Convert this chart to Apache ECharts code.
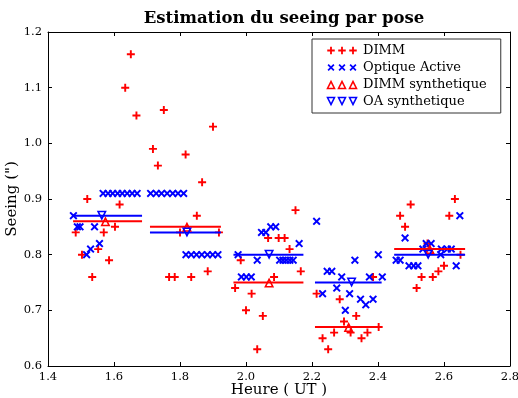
<!DOCTYPE html>
<html>
<head>
<meta charset="utf-8">
<script src="https://cdn.jsdelivr.net/npm/echarts@6/dist/echarts.min.js"></script>
<style>html,body{margin:0;padding:0;background:#fff;}#c{width:518px;height:398px;}</style>
</head>
<body>
<div id="c"></div>
<script>
// ---- data ----
const dimmX = [1.484,1.503,1.519,1.534,1.552,1.569,1.585,1.603,1.617,1.634,1.651,1.668,
  1.718,1.733,1.751,1.767,1.784,1.800,1.817,1.834,1.851,1.867,1.884,1.900,1.918,
  1.967,1.984,2.000,2.017,2.034,2.051,2.067,2.085,2.099,2.117,2.132,2.150,2.166,
  2.214,2.232,2.249,2.267,2.284,2.297,2.317,2.334,2.350,2.368,2.385,2.402,
  2.467,2.482,2.499,2.517,2.532,2.550,2.566,2.583,2.600,2.616,2.633,2.650];
const dimmY = [0.84,0.80,0.90,0.76,0.81,0.84,0.79,0.85,0.89,1.10,1.16,1.05,
  0.99,0.96,1.06,0.76,0.76,0.84,0.98,0.76,0.87,0.93,0.77,1.03,0.84,
  0.74,0.79,0.70,0.73,0.63,0.69,0.83,0.76,0.83,0.83,0.81,0.88,0.77,
  0.73,0.65,0.63,0.66,0.72,0.68,0.66,0.69,0.65,0.66,0.76,0.67,
  0.87,0.85,0.89,0.74,0.76,0.82,0.76,0.77,0.78,0.87,0.90,0.80];
const oaX = [1.477,1.489,1.497,1.517,1.529,1.541,1.556,1.567,1.582,1.596,1.611,1.625,1.640,1.655,1.670,
  1.711,1.728,1.744,1.761,1.778,1.794,1.811,1.818,1.834,1.850,1.866,1.883,1.899,1.915,
  1.976,1.986,2.001,2.016,2.034,2.047,2.060,2.075,2.090,2.102,2.112,2.122,2.133,2.143,2.161,
  2.214,2.232,2.246,2.260,2.275,2.290,2.301,2.314,2.330,2.347,2.363,2.374,2.385,2.401,2.413,
  2.455,2.467,2.482,2.494,2.508,2.521,2.536,2.546,2.561,2.590,2.592,2.610,2.622,2.637,2.648];
const oaY = [0.87,0.85,0.85,0.80,0.81,0.85,0.82,0.91,0.91,0.91,0.91,0.91,0.91,0.91,0.91,
  0.91,0.91,0.91,0.91,0.91,0.91,0.91,0.80,0.80,0.80,0.80,0.80,0.80,0.80,
  0.80,0.76,0.76,0.76,0.79,0.84,0.84,0.85,0.85,0.79,0.79,0.79,0.79,0.79,0.82,
  0.86,0.73,0.77,0.77,0.74,0.76,0.70,0.73,0.79,0.72,0.71,0.76,0.72,0.80,0.76,
  0.79,0.79,0.83,0.78,0.78,0.78,0.81,0.82,0.82,0.80,0.81,0.81,0.81,0.78,0.87];
const segStart = [1.476,1.709,1.962,2.209,2.449];
const segEnd   = [1.685,1.924,2.174,2.411,2.664];
const dimmSynth = [0.86,0.85,0.75,0.67,0.81];
const oaSynth   = [0.87,0.84,0.80,0.75,0.80];
const dimmTriX = [1.574,1.821,2.070,2.311,2.557];
const oaTriX   = [1.563,1.821,2.070,2.320,2.552];
const seriesNames = ['DIMM','Optique Active','DIMM synthetique','OA synthetique'];

// ---- marker shapes (normalised 0..1 polygons) ----
const PLUS = [[[0.38,0],[0.62,0],[0.62,0.38],[1,0.38],[1,0.62],[0.62,0.62],[0.62,1],[0.38,1],[0.38,0.62],[0,0.62],[0,0.38],[0.38,0.38]]];
const CROSS = [[[0.17,0],[0.5,0.33],[0.83,0],[1,0.17],[0.67,0.5],[1,0.83],[0.83,1],[0.5,0.67],[0.17,1],[0,0.83],[0.33,0.5],[0,0.17]]];
const TRI_UP = [[[0.5,0],[0,1],[1,1]],[[0.5,0.36],[0.745,0.845],[0.255,0.845]]];
const TRI_DN = [[[0.5,1],[0,0],[1,0]],[[0.5,0.64],[0.745,0.155],[0.255,0.155]]];
function shapePath(shape, ox, oy, s) {
  return shape.map(p => 'M' + p.map(q => (ox + q[0]*s).toFixed(3) + ',' + (oy + q[1]*s).toFixed(3)).join('L') + 'Z').join('');
}
function symbol(shape) { return 'path://' + shapePath(shape, 0, 0, 10); }
function legendIcon(shape, s) {
  let d = 'M0,0M32,10';
  [5,16,27].forEach(c => { d += shapePath(shape, c - s/2, 5 - s/2, s); });
  return 'path://' + d;
}

const RED = '#ff0000', BLUE = '#0000ff';
const FONT = 'DejaVu Serif';
const pts = (xs, ys) => xs.map((x, i) => [x, ys[i]]);

const series = [
  {name: seriesNames[0], type: 'scatter', symbol: symbol(PLUS), symbolSize: 8,
   itemStyle: {color: RED, opacity: 1}, data: pts(dimmX, dimmY), z: 3},
  {name: seriesNames[1], type: 'scatter', symbol: symbol(CROSS), symbolSize: 8,
   itemStyle: {color: BLUE, opacity: 1}, data: pts(oaX, oaY), z: 3},
  {name: seriesNames[2], type: 'scatter', symbol: symbol(TRI_UP), symbolSize: 10,
   itemStyle: {color: RED, opacity: 1}, data: pts(dimmTriX, dimmSynth), z: 6},
  {name: seriesNames[3], type: 'scatter', symbol: symbol(TRI_DN), symbolSize: 10,
   itemStyle: {color: BLUE, opacity: 1}, data: pts(oaTriX, oaSynth), z: 6}
];
segStart.forEach((s, i) => {
  series.push({type: 'line', data: [[s, dimmSynth[i]], [segEnd[i], dimmSynth[i]]], symbol: 'none',
    lineStyle: {color: RED, width: 2}, silent: true, z: 5, animation: false});
  series.push({type: 'line', data: [[s, oaSynth[i]], [segEnd[i], oaSynth[i]]], symbol: 'none',
    lineStyle: {color: BLUE, width: 2}, silent: true, z: 5, animation: false});
});

const axisCommon = {
  axisLine: {show: true, lineStyle: {color: '#000', width: 1}},
  axisTick: {show: true, inside: true, length: 4, lineStyle: {color: '#000'}},
  splitLine: {show: false}
};
const chart = echarts.init(document.getElementById('c'), null, {renderer: 'canvas'});
chart.setOption({
  backgroundColor: '#fff',
  animation: false,
  title: {text: 'Estimation du seeing par pose', left: 279, top: 5, textAlign: 'center',
    textStyle: {fontFamily: FONT, fontWeight: 'bold', fontSize: 16.5, color: '#000'}},
  grid: {left: 48, right: 8, top: 32, bottom: 32, containLabel: false, outerBoundsMode: 'none'},
  legend: {
    orient: 'vertical', left: 312, top: 39,
    backgroundColor: '#fff', borderColor: '#333', borderWidth: 1, borderRadius: 0,
    padding: [5, 14, 5, 14], itemGap: 4, itemWidth: 32, itemHeight: 10,
    selectedMode: false,
    textStyle: {fontFamily: FONT, fontSize: 13, color: '#000', lineHeight: 13},
    data: [
      {name: seriesNames[0], icon: legendIcon(PLUS, 7.5)},
      {name: seriesNames[1], icon: legendIcon(CROSS, 7)},
      {name: seriesNames[2], icon: legendIcon(TRI_UP, 9.5)},
      {name: seriesNames[3], icon: legendIcon(TRI_DN, 9.5)}
    ]
  },
  xAxis: [
    Object.assign({type: 'value', min: 1.4, max: 2.8, interval: 0.2, position: 'bottom',
      name: 'Heure ( UT )', nameLocation: 'middle', nameGap: 17, nameMoveOverlap: false,
      nameTextStyle: {fontFamily: FONT, fontSize: 15, color: '#000', verticalAlign: 'top'},
      axisLabel: {fontFamily: FONT, fontSize: 11.5, color: '#000', margin: 5, formatter: v => v.toFixed(1)}}, axisCommon),
    Object.assign({type: 'value', min: 1.4, max: 2.8, interval: 0.2, position: 'top',
      axisLabel: {show: false}}, axisCommon)
  ],
  yAxis: [
    Object.assign({type: 'value', min: 0.6, max: 1.2, interval: 0.1, position: 'left',
      name: 'Seeing (")', nameLocation: 'middle', nameGap: 28, nameRotate: 90, nameMoveOverlap: false,
      nameTextStyle: {fontFamily: FONT, fontSize: 15, color: '#000'},
      axisLabel: {fontFamily: FONT, fontSize: 11.5, color: '#000', margin: 6, formatter: v => v.toFixed(1)}}, axisCommon),
    Object.assign({type: 'value', min: 0.6, max: 1.2, interval: 0.1, position: 'right',
      axisLabel: {show: false}}, axisCommon)
  ],
  series: series
});
</script>
</body>
</html>
